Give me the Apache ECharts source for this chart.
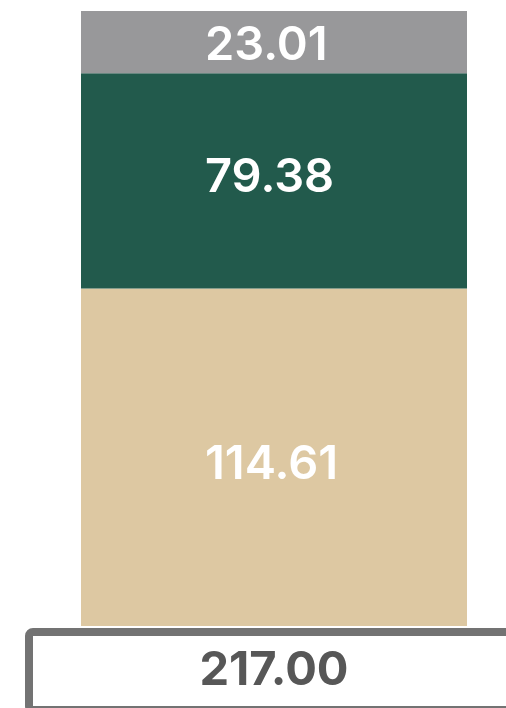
<!DOCTYPE html>
<html>
<head>
<meta charset="utf-8">
<style>
  html, body { margin: 0; padding: 0; background: #ffffff; }
  #chart { width: 506px; height: 708px; }
</style>
<script src="https://cdn.jsdelivr.net/npm/echarts@6/dist/echarts.min.js"></script>
</head>
<body>
<div id="chart"></div>
<script>
const categories = ['Total'];
const seriesNames = ['Base', 'Middle', 'Top'];
const baseValues = [114.61];
const middleValues = [79.38];
const topValues = [23.01];
const seriesColors = ['#DDC8A2', '#225A4C', '#98989A'];

const total = baseValues[0] + middleValues[0] + topValues[0];
const totalLabel = total.toFixed(2);

const chart = echarts.init(document.getElementById('chart'), null, { renderer: 'canvas' });

const labelStyle = {
  show: true,
  position: [124, '50%'],
  align: 'left',
  verticalAlign: 'middle',
  color: '#ffffff',
  fontFamily: 'Inter',
  fontWeight: 600,
  fontSize: 47,
  formatter: p => p.value.toFixed(2)
};

function mkSeries(name, data, color, offsetY) {
  return {
    name: name,
    type: 'bar',
    stack: 'total',
    data: data,
    barWidth: '100%',
    itemStyle: { color: color },
    label: Object.assign({}, labelStyle, { offset: [0, offsetY] }),
    emphasis: { disabled: true },
    silent: true,
    animation: false
  };
}

chart.setOption({
  animation: false,
  grid: { left: 81, width: 386, top: 11, bottom: 82 },
  xAxis: {
    type: 'category',
    data: categories,
    show: false
  },
  yAxis: {
    type: 'value',
    min: -10,
    max: 217,
    startValue: -10,
    show: false
  },
  series: [
    mkSeries(seriesNames[0], baseValues, seriesColors[0], 8),
    mkSeries(seriesNames[1], middleValues, seriesColors[1], -3),
    mkSeries(seriesNames[2], topValues, seriesColors[2], 4)
  ],
  graphic: [
    {
      type: 'rect',
      shape: { x: 29, y: 632, width: 520, height: 78, r: 4 },
      style: { fill: '#ffffff', stroke: '#737373', lineWidth: 8 },
      silent: true
    },
    {
      type: 'text',
      x: 274,
      y: 671,
      style: {
        text: totalLabel,
        fill: '#575757',
        fontFamily: 'Inter',
        fontWeight: 'bold',
        fontSize: 47,
        textAlign: 'center',
        textVerticalAlign: 'middle'
      },
      silent: true
    }
  ]
});
</script>
</body>
</html>
